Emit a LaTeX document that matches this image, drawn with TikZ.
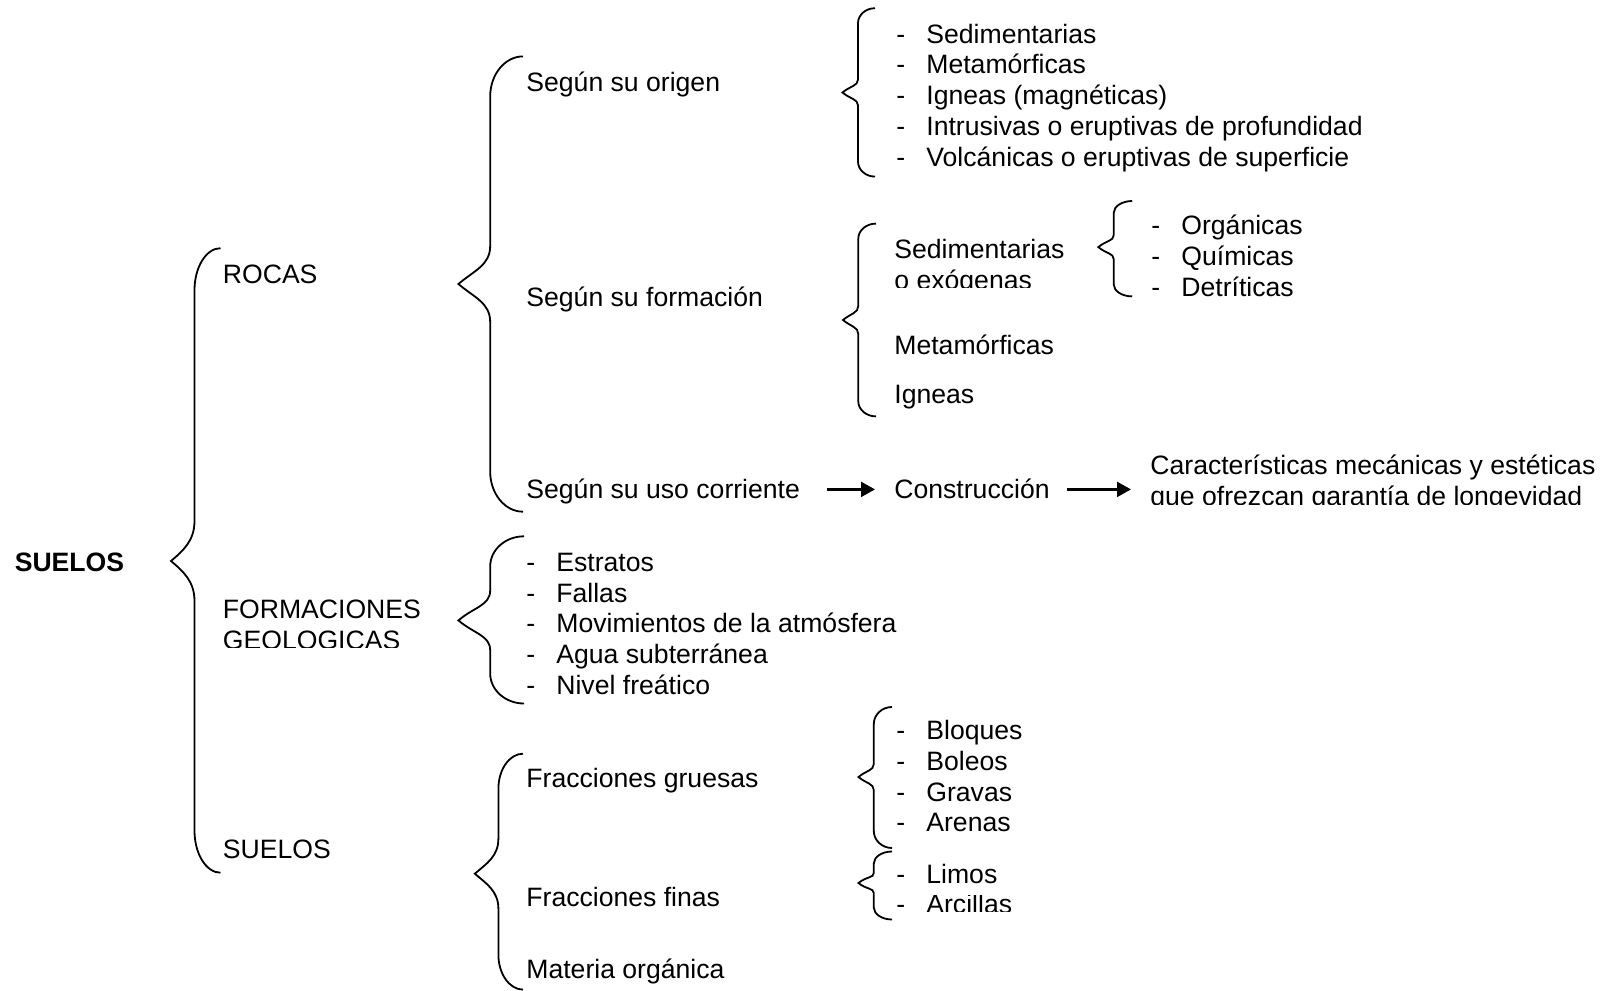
\documentclass[tikz,border=0pt]{standalone}
\usepackage{fontspec}
\setmainfont{Liberation Sans}
\usetikzlibrary{arrows.meta}
\newcommand{\guion}{\makebox[15pt][l]{-}}
% llave: tip x, line x, end x, top y, tip y, bottom y, corner, tip curve
\newcommand{\llave}[8]{%
  \draw[llave] (#3,#4) .. controls ({#3-0.55*(#3-#2)},#4) and (#2,{#4+0.45*#7}) .. (#2,{#4+#7})
    -- (#2,{#5-#8}) .. controls (#2,{#5-0.5*#8}) and ({#1+0.5*(#2-#1)},{#5-0.425*(#2-#1)}) .. (#1,#5)
    .. controls ({#1+0.5*(#2-#1)},{#5+0.425*(#2-#1)}) and (#2,{#5+0.5*#8}) .. (#2,{#5+#8})
    -- (#2,{#6-#7}) .. controls (#2,{#6-0.45*#7}) and ({#3-0.55*(#3-#2)},#6) .. (#3,#6);}

\begin{document}
\begin{tikzpicture}[x=0.5pt,y=-0.5pt,font=\fontsize{13.3}{15.4}\selectfont,
    txt/.style={anchor=base west,inner sep=0pt,text height=11pt,text depth=2pt},
    llave/.style={line width=0.9pt},
    flecha/.style={line width=1.1pt,-{Triangle[length=7pt,width=7.5pt]}}]
  \useasboundingbox (0,0) rectangle (1608,991);

  % first level
  \node[txt,font=\fontsize{13.3}{15.4}\selectfont\bfseries] (suelos) at (14.4,571.2) {SUELOS};
  \llave{171}{194.5}{220.5}{248.2}{561}{872.7}{42}{40}
  \node[txt] (rocas) at (222.5,283) {ROCAS};
  \node[txt] (formac) at (222.5,618.4) {FORMACIONES};
  \begin{scope}
    \clip (222,625) rectangle (460,647);
    \node[txt] (formac2) at (222.5,649.2) {GEOLOGICAS};
  \end{scope}
  \node[txt] (suelos2) at (222.5,858.3) {SUELOS};

  % rocas
  \llave{458.4}{490.2}{523}{56.4}{284}{511.7}{40}{38}
  \node[txt] (origen) at (526,91.3) {Según su origen};
  \node[txt] (formacion) at (526,306.6) {Según su formación};
  \node[txt] (uso) at (526,498.4) {Según su uso corriente};

  \llave{842.5}{858}{875}{8.2}{92.5}{176.6}{15}{13}
  \foreach \t [count=\i] in {Sedimentarias,Metamórficas,Igneas (magnéticas),
      Intrusivas o eruptivas de profundidad,Volcánicas o eruptivas de superficie}
    \node[txt] (orig\i) at (896,{43.1+30.8*(\i-1)}) {\guion\t};

  \llave{843}{858.3}{876}{223.6}{320}{416.4}{15}{14}
  \node[txt] (sedim) at (894,258.4) {Sedimentarias};
  \begin{scope}
    \clip (890,268) rectangle (1070,287);
    \node[txt] (sedim2) at (894,289.2) {o exógenas};
  \end{scope}
  \node[txt] (metam) at (894,354.8) {Metamórficas};
  \node[txt] (igneas) at (894,403) {Igneas};

  \llave{1098.3}{1113.7}{1132.2}{201}{247.1}{296.4}{12}{12}
  \foreach \t [count=\i] in {Orgánicas,Químicas,Detríticas}
    \node[txt] (sed\i) at (1151,{234.8+30.8*(\i-1)}) {\guion\t};

  \node[txt] (constr) at (894,498.4) {Construcción};
  \node[txt] (caract) at (1150,474.8) {Características mecánicas y estéticas};
  \begin{scope}
    \clip (1145,484) rectangle (1608,504.5);
    \node[txt] (caract2) at (1150,505.6) {que ofrezcan garantía de longevidad};
  \end{scope}
  \draw[flecha,shorten <=13.5pt,shorten >=9.5pt] (uso) -- (constr);
  \draw[flecha,shorten <=8.5pt,shorten >=9.5pt] (constr.east) -- (constr.east -| caract.west);

  % formaciones geologicas
  \llave{458.4}{490.2}{524}{536.3}{620.4}{703.5}{30}{30}
  \foreach \t [count=\i] in {Estratos,Fallas,Movimientos de la atmósfera,
      Agua subterránea,Nivel freático}
    \node[txt] (form\i) at (526,{571.2+30.8*(\i-1)}) {\guion\t};

  % suelos
  \llave{474.8}{498.4}{523}{753.7}{873.7}{989.6}{35}{35}
  \node[txt] (frgru) at (526,787.6) {Fracciones gruesas};
  \node[txt] (frfin) at (526,906.5) {Fracciones finas};
  \node[txt] (matorg) at (526,978.3) {Materia orgánica};

  \llave{858.5}{873.8}{892}{707}{777}{848}{17}{13}
  \foreach \t [count=\i] in {Bloques,Boleos,Gravas,Arenas}
    \node[txt] (gru\i) at (896,{739.4+30.8*(\i-1)}) {\guion\t};

  \llave{858.5}{873.8}{892}{851.5}{883}{919.5}{12}{10}
  \node[txt] (fin1) at (896,883) {\guion Limos};
  \begin{scope}
    \clip (890,895) rectangle (1060,911.5);
    \node[txt] (fin2) at (896,913.8) {\guion Arcillas};
  \end{scope}
\end{tikzpicture}
\end{document}
